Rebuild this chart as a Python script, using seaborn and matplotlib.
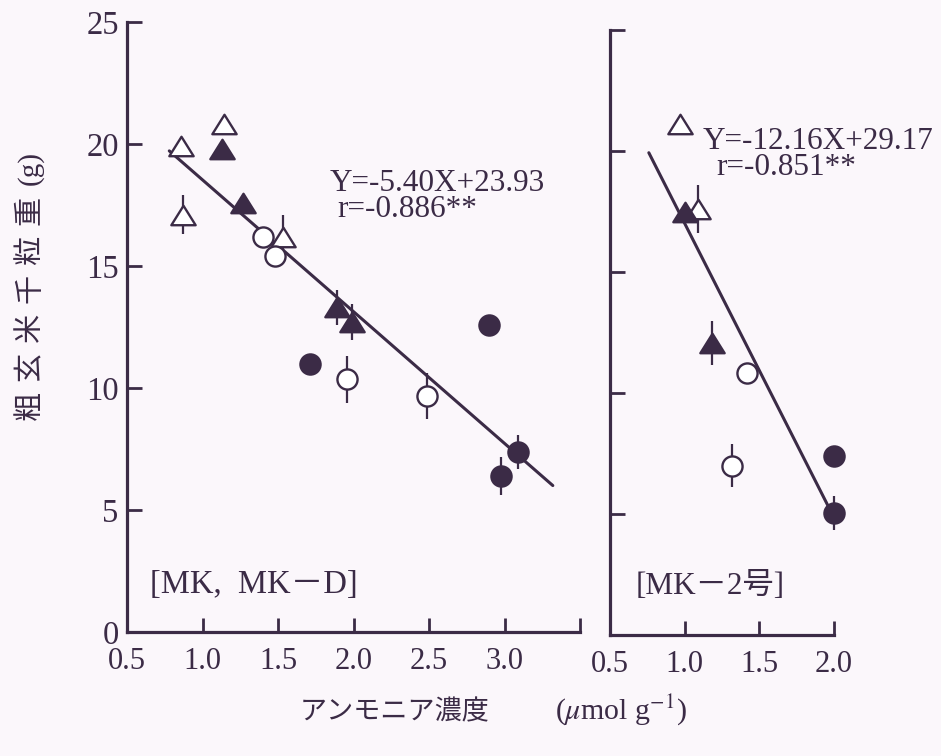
import numpy as np
import pandas as pd
import matplotlib
matplotlib.use("Agg")
import matplotlib.pyplot as plt
from matplotlib.path import Path
from matplotlib.markers import MarkerStyle
import seaborn as sns

# ---- data: left panel [MK, MK-D] ----
left_open_tri_x = [0.86, 1.14, 0.87, 1.53]
left_open_tri_y = [19.9, 20.8, 17.1, 16.2]
left_open_tri_e = [0.0, 0.0, 0.8, 0.9]

left_fill_tri_x = [1.13, 1.27, 1.89, 1.99]
left_fill_tri_y = [19.8, 17.6, 13.3, 12.7]
left_fill_tri_e = [0.0, 0.0, 0.7, 0.75]

left_open_cir_x = [1.40, 1.48, 1.96, 2.49]
left_open_cir_y = [16.2, 15.4, 10.35, 9.66]
left_open_cir_e = [0.0, 0.0, 0.95, 0.95]

left_fill_cir_x = [1.71, 2.90, 3.09, 2.98]
left_fill_cir_y = [10.97, 12.6, 7.37, 6.38]
left_fill_cir_e = [0.0, 0.0, 0.7, 0.78]

left_slope, left_icpt, left_r = -5.40, 23.93, -0.886
left_fit_range = [0.78, 3.32]

# ---- data: right panel [MK-2号] ----
right_open_tri_x = [0.97, 1.09]
right_open_tri_y = [21.1, 17.6]
right_open_tri_e = [0.0, 1.0]

right_fill_tri_x = [1.00, 1.18]
right_fill_tri_y = [17.5, 12.07]
right_fill_tri_e = [0.0, 0.9]

right_open_cir_x = [1.42, 1.32]
right_open_cir_y = [10.84, 7.0]
right_open_cir_e = [0.0, 0.9]

right_fill_cir_x = [2.0, 2.0]
right_fill_cir_y = [7.4, 5.03]
right_fill_cir_e = [0.0, 0.7]

right_slope, right_icpt, right_r = -12.16, 29.17, -0.851
right_fit_range = [0.76, 2.03]

y_ticks = [0, 5, 10, 15, 20, 25]
left_x_ticks = [0.5, 1.0, 1.5, 2.0, 2.5, 3.0, 3.5]
left_x_labels = ["0.5", "1.0", "1.5", "2.0", "2.5", "3.0", ""]
right_x_ticks = [0.5, 1.0, 1.5, 2.0]
right_x_labels = ["0.5", "1.0", "1.5", "2.0"]

# ---- style ----
INK = "#3b2b46"
BG = "#fbf7fb"
SERIF = ["Liberation Serif", "Noto Sans CJK JP"]
CJK = ["Noto Sans CJK JP", "DejaVu Sans"]
ANN = 22.5

sns.set_theme(style="white")
plt.rcParams["font.family"] = SERIF
plt.rcParams["mathtext.fontset"] = "stix"
plt.rcParams["text.color"] = INK
plt.rcParams["axes.labelcolor"] = INK
plt.rcParams["xtick.color"] = INK
plt.rcParams["ytick.color"] = INK
plt.rcParams["xtick.direction"] = "in"
plt.rcParams["ytick.direction"] = "in"
plt.rcParams["xtick.bottom"] = True
plt.rcParams["ytick.left"] = True

tri_path = Path([(0, 0.8), (-1, -0.8), (1, -0.8), (0, 0.8)],
                [Path.MOVETO, Path.LINETO, Path.LINETO, Path.CLOSEPOLY])
TRI = MarkerStyle(tri_path)

W, H = 941, 756
fig = plt.figure(figsize=(W / 100, H / 100), dpi=100, facecolor=BG)


def px_axes(x0, x1, ytop, ybot):
    return fig.add_axes([x0 / W, (H - ybot) / H, (x1 - x0) / W, (ybot - ytop) / H])


axL = px_axes(127, 580, 22, 632)
axR = px_axes(610, 834, 30, 635)


def draw_group(ax, xs, ys, es, marker, face, size):
    xs, ys, es = np.asarray(xs), np.asarray(ys), np.asarray(es)
    m = es > 0
    if m.any():
        ax.vlines(xs[m], ys[m] - es[m], ys[m] + es[m], color=INK, lw=1.6,
                  zorder=2, clip_on=False)
    df = pd.DataFrame({"x": xs, "y": ys})
    sns.scatterplot(data=df, x="x", y="y", ax=ax, marker=marker, s=size,
                    color=face, edgecolor=INK, linewidth=1.7, zorder=3,
                    clip_on=False, legend=False)


def draw_fit(ax, slope, icpt, rng):
    xs = np.array(rng)
    sns.lineplot(x=xs, y=slope * xs + icpt, ax=ax, color=INK, lw=2.2,
                 zorder=1.5, legend=False)


def style_axes(ax, xticks, xlabels, xlim, show_y):
    ax.set_facecolor(BG)
    ax.set_xlim(*xlim)
    ax.set_ylim(0, 25)
    for s in ["top", "right"]:
        ax.spines[s].set_visible(False)
    for s in ["left", "bottom"]:
        ax.spines[s].set_color(INK)
        ax.spines[s].set_linewidth(2.3)
    ax.set_xticks(xticks)
    ax.set_xticklabels(xlabels)
    ax.set_yticks(y_ticks)
    ax.tick_params(axis="x", direction="in", length=10, width=2.0, color=INK,
                   bottom=True, top=False, pad=11, labelsize=22)
    ax.tick_params(axis="y", direction="in", length=10.5, width=2.0, color=INK,
                   left=True, right=False, pad=6, labelsize=23.5,
                   labelleft=show_y)
    ax.set_xlabel("")
    ax.set_ylabel("")


TRI_S = 17.5 ** 2
CIR_S = 14.5 ** 2

# left panel
draw_fit(axL, left_slope, left_icpt, left_fit_range)
draw_group(axL, left_open_tri_x, left_open_tri_y, left_open_tri_e, TRI, "white", TRI_S)
draw_group(axL, left_fill_tri_x, left_fill_tri_y, left_fill_tri_e, TRI, INK, TRI_S)
draw_group(axL, left_open_cir_x, left_open_cir_y, left_open_cir_e, "o", "white", CIR_S)
draw_group(axL, left_fill_cir_x, left_fill_cir_y, left_fill_cir_e, "o", INK, CIR_S)
style_axes(axL, left_x_ticks, left_x_labels, (0.5, 3.5), True)
axL.text(1.84, 18.4, f"Y={left_slope:.2f}X+{left_icpt:.2f}", fontsize=ANN,
         va="center", ha="left", color=INK)
axL.text(1.89, 17.3, f"r={left_r:.3f}**", fontsize=ANN, va="center",
         ha="left", color=INK)
axL.text(0.65, 1.93, "[MK,  MK－D]", fontsize=23.5, va="center", ha="left",
         color=INK, family=SERIF)

# right panel
draw_fit(axR, right_slope, right_icpt, right_fit_range)
draw_group(axR, right_open_tri_x, right_open_tri_y, right_open_tri_e, TRI, "white", TRI_S)
draw_group(axR, right_fill_tri_x, right_fill_tri_y, right_fill_tri_e, TRI, INK, TRI_S)
draw_group(axR, right_open_cir_x, right_open_cir_y, right_open_cir_e, "o", "white", CIR_S)
draw_group(axR, right_fill_cir_x, right_fill_cir_y, right_fill_cir_e, "o", INK, CIR_S)
style_axes(axR, right_x_ticks, right_x_labels, (0.5, 2.0), False)
axR.text(1.12, 20.4, f"Y={right_slope:.2f}X+{right_icpt:.2f}", fontsize=ANN,
         va="center", ha="left", color=INK)
axR.text(1.21, 19.3, f"r={right_r:.3f}**", fontsize=ANN, va="center",
         ha="left", color=INK)
axR.text(0.674, 2.0, "[MK－2号]", fontsize=22.5, va="center", ha="left",
         color=INK, family=SERIF)

# y axis title, letter-spaced and rotated
ylab_chars = "粗玄米千粒重"
ylab_unit = "(g)"
for i, ch in enumerate(ylab_chars):
    yc = 405 - i * 39
    fig.text(30 / W, (H - yc) / H, ch, rotation=90, fontsize=21, family=CJK,
             ha="center", va="center", color=INK)
fig.text(30 / W, (H - 168) / H, ylab_unit, rotation=90, fontsize=21,
         family=SERIF, ha="center", va="center", color=INK)

# x axis title
fig.text(395 / W, (H - 712) / H, "アンモニア濃度", fontsize=19.5, family=CJK,
         ha="center", va="center", color=INK)
fig.text(621 / W, (H - 710) / H, r"($\mathit{\mu}$mol g$^{-1}$)", fontsize=21.5,
         family=SERIF, ha="center", va="center", color=INK)

fig.savefig("out.png", dpi=100, facecolor=BG)
